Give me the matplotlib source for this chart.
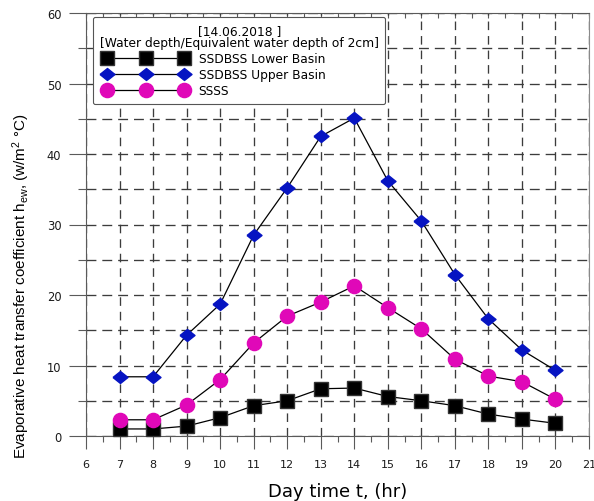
import matplotlib
matplotlib.use("Agg")
import matplotlib.pyplot as plt
from matplotlib.legend_handler import HandlerLine2D
import numpy as np

# Evaporative heat transfer coefficient, 14.06.2018
hours = [7, 8, 9, 10, 11, 12, 13, 14, 15, 16, 17, 18, 19, 20]
lower_basin = [1.0, 1.0, 1.4, 2.6, 4.3, 5.0, 6.7, 6.8, 5.6, 5.0, 4.3, 3.1, 2.4, 1.8]
upper_basin = [8.4, 8.4, 14.3, 18.7, 28.5, 35.2, 42.5, 45.1, 36.2, 30.5, 22.9, 16.6, 12.2, 9.3]
ssss = [2.3, 2.3, 4.4, 8.0, 13.2, 17.0, 19.0, 21.3, 18.2, 15.2, 10.9, 8.5, 7.7, 5.2]

series_labels = ["SSDBSS Lower Basin", "SSDBSS Upper Basin", "SSSS"]
legend_title = "[14.06.2018 ]\n[Water depth/Equivalent water depth of 2cm]"
x_label = "Day time t, (hr)"
y_label = r"Evaporative heat transfer coefficient h$\mathregular{_{ew}}$, (w/m$\mathregular{^2}$ °C)"

plt.rcParams["font.family"] = ["DejaVu Sans"]

fig = plt.figure(figsize=(5.94, 5.02), dpi=100)
ax = fig.add_axes([86 / 594, 65 / 502, 503 / 594, 423 / 502])

ax.set_xlim(6, 21)
ax.set_ylim(0, 60)

ax.set_xticks(np.arange(6, 22, 1))
ax.set_xticks(np.arange(6.5, 21, 1), minor=True)
ax.set_yticks(np.arange(0, 61, 10))
ax.set_yticks(np.arange(5, 60, 10), minor=True)

axis_col = "#5a5a5a"
grid_col = "#3c3c3c"
for side in ["left", "bottom", "top", "right"]:
    ax.spines[side].set_color(axis_col)
    ax.spines[side].set_linewidth(0.8)
ax.spines["right"].set_color("#8a8a8a")

ax.tick_params(axis="y", which="major", direction="out", length=12.2, width=0.8,
               color=axis_col, pad=5.5, labelsize=8.3, labelcolor="#1a1a1a")
ax.tick_params(axis="y", which="minor", direction="out", length=5.8, width=0.8,
               color=axis_col)
ax.tick_params(axis="x", which="major", direction="out", length=9.4, width=0.8,
               color=axis_col, pad=7.5, labelsize=8.0, labelcolor="#1a1a1a")
ax.tick_params(axis="x", which="minor", direction="out", length=4.3, width=0.8,
               color=axis_col)

# inward half-hour ticks along the top edge
top = ax.secondary_xaxis("top")
top.set_xticks(np.arange(6, 21.01, 0.5))
top.tick_params(direction="in", length=3.8, width=0.8, color=axis_col, labeltop=False)
top.spines["top"].set_visible(False)

# dashed grid
ax.set_axisbelow(True)
ax.grid(True, axis="x", which="major", linestyle=(0, (6.5, 4.5)), color=grid_col, linewidth=0.95)
ax.grid(True, axis="y", which="both", linestyle=(0, (7.5, 4.5)), color=grid_col, linewidth=0.95)

diamond = [(-1.25, 0), (0, 1), (1.25, 0), (0, -1), (-1.25, 0)]

l1, = ax.plot(hours, lower_basin, color="black", linewidth=0.9, marker="s",
              markersize=10.5, markerfacecolor="black", markeredgecolor="#333333",
              zorder=3, clip_on=False)
l2, = ax.plot(hours, upper_basin, color="black", linewidth=0.9, marker=diamond,
              markersize=10.8, markerfacecolor="#0614c2", markeredgecolor="#0614c2",
              zorder=4, clip_on=False)
l3, = ax.plot(hours, ssss, color="black", linewidth=0.9, marker="o",
              markersize=10.2, markerfacecolor="#e008b8", markeredgecolor="#e008b8",
              zorder=5, clip_on=False)

leg = ax.legend([l1, l2, l3], series_labels, title=legend_title,
                loc="upper left", bbox_to_anchor=(7 / 503, 419 / 423),
                borderaxespad=0, numpoints=3, handlelength=7.5, handletextpad=0.6,
                labelspacing=0.25, fontsize=8.8, title_fontsize=8.8,
                alignment="left", fancybox=True, framealpha=1,
                edgecolor="#555555", borderpad=0.55,
                handler_map={l1: HandlerLine2D(marker_pad=0.6),
                             l2: HandlerLine2D(marker_pad=0.6),
                             l3: HandlerLine2D(marker_pad=0.6)})
leg.get_frame().set_linewidth(0.8)
leg.get_title().set_multialignment("center")
leg.get_title().set_linespacing(0.95)
leg.set_zorder(10)

ax.set_xlabel(x_label, fontsize=13, labelpad=9)
ax.set_ylabel(y_label, fontsize=11, family=["Liberation Sans", "DejaVu Sans"])
ax.yaxis.set_label_coords(-0.108, 0.356)

fig.savefig("out.png", dpi=100)
